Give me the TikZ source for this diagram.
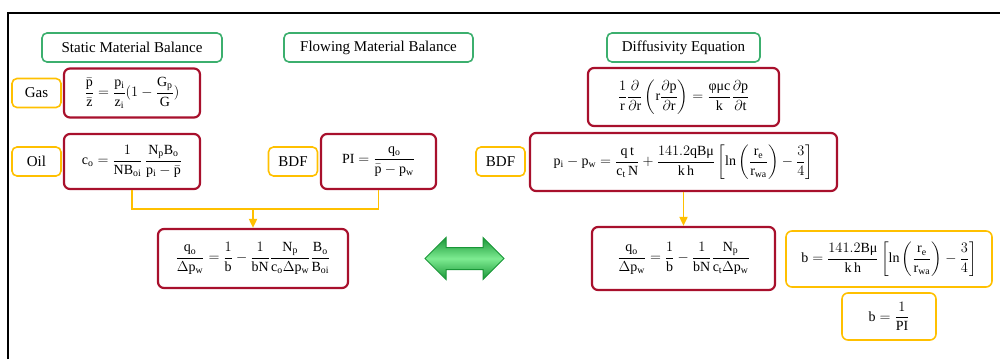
\documentclass[tikz,border=0pt]{standalone}
\usepackage{fontspec}
\setmainfont{Liberation Serif}
\usepackage{amsmath}
\usetikzlibrary{arrows.meta, shapes.arrows}
\definecolor{vertTitre}{RGB}{60, 175, 110}
\definecolor{rougeEq}{RGB}{168, 16, 44}
\definecolor{orangeTag}{RGB}{255, 192, 0}
\definecolor{vertFleche}{RGB}{25, 150, 55}
\definecolor{vertClairF}{RGB}{125, 235, 145}
\newcommand{\mr}[1]{\mathrm{#1}}
\newcommand{\umu}{\text{μ}}
\newcommand{\uphi}{\text{φ}}

\begin{document}
\begin{tikzpicture}[x=1pt, y=-1pt,
  titre/.style={rectangle, draw=vertTitre, rounded corners=5pt, line width=1.6pt,
    minimum height=29pt, font=\fontsize{15}{17}\selectfont},
  tag/.style={rectangle, draw=orangeTag, rounded corners=5pt, line width=1.6pt,
    minimum width=49pt, minimum height=29pt, font=\fontsize{15}{17}\selectfont},
  eq/.style={rectangle, draw=#1, rounded corners=6pt, line width=2.2pt,
    inner sep=0pt, font=\fontsize{14}{16}\selectfont},
  eq/.default=rougeEq,
  wire/.style={line width=1.8pt, draw=orangeTag},
]
\useasboundingbox (0,0) rectangle (1000,359);
\draw[line width=2pt] (8,359) -- (8,13) -- (1000,13);
% titles
\node[titre, minimum width=180pt] (smb) at (132,47.5) {Static Material Balance};
\node[titre, minimum width=189pt] (fmb) at (378.5,47.5) {Flowing Material Balance};
\node[titre, minimum width=153pt] (dif) at (683.5,47.5) {Diffusivity Equation};
% left column
\node[tag] (gas) at (36.5,93) {Gas};
\node[eq, minimum width=136pt, minimum height=49pt] (gaseq) at (132,93)
  {$\displaystyle \frac{\bar{\mr{p}}}{\bar{\mr{z}}}=\frac{\mr{p_i}}{\mr{z_i}}(1-\frac{\mr{G_p}}{\mr{G}})$};
\node[tag] (oil) at (36.5,161.5) {Oil};
\node[eq, minimum width=136pt, minimum height=55pt] (oileq) at (132,161.5)
  {$\displaystyle \mr{c_o}=\frac{1}{\mr{NB_{oi}}}\,\frac{\mr{N_pB_o}}{\mr{p_i}-\bar{\mr{p}}}$};
\node[tag] (bdfa) at (293,161.5) {BDF};
\node[eq, minimum width=115pt, minimum height=55pt] (pieq) at (378.5,161.5)
  {$\displaystyle \mr{PI}=\frac{\mr{q_o}}{\bar{\mr{p}}-\mr{p_w}}$};
\node[eq, minimum width=190pt, minimum height=59pt] (mbeq) at (253,258.5)
  {$\displaystyle \frac{\mr{q_o}}{\Delta\mr{p_w}}=\frac{1}{\mr{b}}-\frac{1}{\mr{bN}}
   \frac{\mr{N_p}}{\mr{c_o}\Delta\mr{p_w}}\frac{\mr{B_o}}{\mr{B_{oi}}}$};
% right column
\node[eq, minimum width=191pt, minimum height=58pt] (difeq) at (683.5,97)
  {$\displaystyle \frac{1}{\mr{r}}\frac{\partial}{\partial\mr{r}}\left(\mr{r}\frac{\partial\mr{p}}{\partial\mr{r}}\right)
   =\frac{\uphi\umu\mr{c}}{\mr{k}}\frac{\partial\mr{p}}{\partial\mr{t}}$};
\node[tag] (bdfb) at (500.5,161.5) {BDF};
\node[eq, minimum width=307pt, minimum height=58pt] (bdfeq) at (683.5,162)
  {$\displaystyle \mr{p_i}-\mr{p_w}=\frac{\mr{q\,t}}{\mr{c_t\,N}}+\frac{141.2\mr{qB}\umu}{\mr{k\,h}}
   \left[\ln\left(\frac{\mr{r_e}}{\mr{r_{wa}}}\right)-\frac{3}{4}\right]$};
\node[eq, minimum width=183pt, minimum height=63pt] (fmeq) at (683.5,258.5)
  {$\displaystyle \frac{\mr{q_o}}{\Delta\mr{p_w}}=\frac{1}{\mr{b}}-\frac{1}{\mr{bN}}
   \frac{\mr{N_p}}{\mr{c_t}\Delta\mr{p_w}}$};
\node[eq=orangeTag, line width=1.6pt, minimum width=206pt, minimum height=56pt] (beq) at (889,259)
  {$\displaystyle \mr{b}=\frac{141.2\mr{B}\umu}{\mr{k\,h}}
   \left[\ln\left(\frac{\mr{r_e}}{\mr{r_{wa}}}\right)-\frac{3}{4}\right]$};
\node[eq=orangeTag, line width=1.6pt, minimum width=94pt, minimum height=47pt] (bpi) at (889,316.5)
  {$\displaystyle \mr{b}=\frac{1}{\mr{PI}}$};
% link between both sides
\node[double arrow, draw=vertFleche, line width=1pt, inner xsep=0pt, inner ysep=10.5pt,
  minimum height=79pt, minimum width=41pt, double arrow head extend=10pt,
  shading=axis, top color=vertFleche, bottom color=vertFleche, middle color=vertClairF]
  (lien) at (464.5,258.5) {};
% connectors
\coordinate (jn) at (253,209);
\draw[wire] (oileq.south) |- (jn) -| (pieq.south);
\draw[wire, -{Triangle[length=9pt, width=8pt]}] (jn) -- (mbeq.north);
\draw[wire, -{Triangle[length=9pt, width=8pt]}] (bdfeq.south) -- (fmeq.north);
\end{tikzpicture}
\end{document}
